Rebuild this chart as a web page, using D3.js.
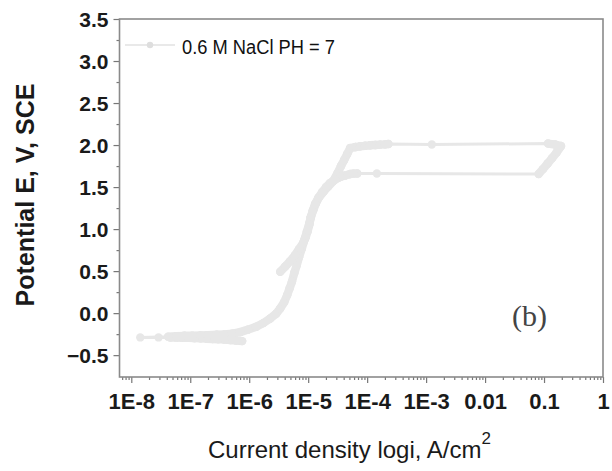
<!DOCTYPE html>
<html>
<head>
<meta charset="utf-8">
<script src="https://cdn.jsdelivr.net/npm/d3@7"></script>
<style>
  body { margin: 0; background: #fff; }
  svg { display: block; font-family: "Liberation Sans", Arial, sans-serif; }
</style>
</head>
<body>
<div id="chart"></div>
<script>
// polarization scan, in scan order (A/cm2, V vs SCE)
var current = [
  7.6e-7, 6.0e-7, 4.8e-7, 3.8e-7, 3.0e-7, 2.4e-7, 1.9e-7, 1.5e-7, 1.17e-7, 9.2e-8, 7.3e-8, 5.8e-8, 4.6e-8,
  2.9e-8, 1.42e-8,
  4.2e-8, 5.8e-8, 7.9e-8, 1.08e-7, 1.5e-7, 2.0e-7, 2.8e-7, 3.8e-7, 5.2e-7, 7.0e-7, 9.6e-7, 1.31e-6, 1.73e-6,
  2.27e-6, 2.87e-6, 3.35e-6, 3.92e-6, 4.4e-6, 4.86e-6, 5.3e-6, 5.8e-6, 6.4e-6, 7.0e-6, 7.8e-6, 8.6e-6, 9.5e-6,
  1.04e-5, 1.11e-5, 1.22e-5, 1.35e-5, 1.54e-5, 1.82e-5, 2.18e-5, 2.66e-5, 3.16e-5, 3.6e-5, 4.07e-5, 4.58e-5,
  5.15e-5, 6.3e-5, 7.6e-5, 9.2e-5, 1.12e-4, 1.37e-4, 1.66e-4, 2.02e-4, 2.3e-4,
  1.25e-3,
  0.117, 0.154, 0.194, 0.163, 0.137, 0.115, 0.096, 0.081,
  1.46e-4,
  6.8e-5, 5.8e-5, 5.15e-5, 4.24e-5, 3.48e-5, 2.87e-5, 2.36e-5, 2.02e-5, 1.73e-5, 1.48e-5, 1.31e-5, 1.19e-5,
  1.10e-5, 1.04e-5, 9.8e-6, 9.1e-6, 8.2e-6, 7.0e-6, 6.0e-6, 4.95e-6, 4.07e-6, 3.35e-6
];
var potential = [
  -0.333, -0.327, -0.321, -0.315, -0.310, -0.307, -0.304, -0.300, -0.298, -0.295, -0.293, -0.292, -0.291,
  -0.289, -0.289,
  -0.280, -0.274, -0.270, -0.268, -0.265, -0.262, -0.258, -0.254, -0.244, -0.226, -0.196, -0.163, -0.119,
  -0.063, -0.006, 0.056, 0.131, 0.214, 0.298, 0.373, 0.476, 0.571, 0.667, 0.770, 0.869, 0.968,
  1.060, 1.146, 1.226, 1.306, 1.381, 1.444, 1.506, 1.571, 1.667, 1.750, 1.821, 1.893,
  1.964, 1.976, 1.985, 1.991, 1.997, 2.000, 2.005, 2.008, 2.012,
  2.006,
  2.018, 2.006, 1.988, 1.911, 1.845, 1.780, 1.714, 1.655,
  1.661,
  1.661, 1.660, 1.655, 1.637, 1.619, 1.589, 1.548, 1.500, 1.440, 1.369, 1.298, 1.214,
  1.131, 1.048, 0.976, 0.905, 0.833, 0.762, 0.690, 0.619, 0.554, 0.492
];
var xTicks = [1e-8, 1e-7, 1e-6, 1e-5, 1e-4, 1e-3, 1e-2, 1e-1, 1];
var xTickLabels = ["1E-8", "1E-7", "1E-6", "1E-5", "1E-4", "1E-3", "0.01", "0.1", "1"];
var yTicks = [-0.5, 0, 0.5, 1, 1.5, 2, 2.5, 3, 3.5];
var seriesName = "0.6 M NaCl PH = 7";

var W = 612, H = 471;
var margin = {top: 19, right: 9, bottom: 94, left: 119.5};
var color = "#e7e7e7";
var symR = 4.2;

var svg = d3.select("#chart").append("svg")
    .attr("width", W)
    .attr("height", H);

var x = d3.scaleLog()
    .domain([Math.pow(10, -8.2), 1])
    .range([margin.left, W - margin.right]);
var y = d3.scaleLinear()
    .domain([-0.76, 3.5])
    .range([H - margin.bottom, margin.top]);

// minor ticks
var xMinor = [];
for (var e = -9; e < 0; e++) {
  for (var k = 2; k <= 9; k++) {
    var v = k * Math.pow(10, e);
    if (v > x.domain()[0] && v < 1) xMinor.push(v);
  }
}
var yMinor = [];
yTicks.forEach(function(t) { if (t + 0.25 < 3.5) yMinor.push(t + 0.25); });

svg.append("g")
    .attr("transform", "translate(0," + (H - margin.bottom) + ")")
    .call(d3.axisBottom(x).tickValues(xMinor).tickSize(3).tickFormat(""))
    .call(function(g) { g.select(".domain").remove(); });

svg.append("g")
    .attr("transform", "translate(" + margin.left + ",0)")
    .call(d3.axisLeft(y).tickValues(yMinor).tickSize(3).tickFormat(""))
    .call(function(g) { g.select(".domain").remove(); });

var xAxis = svg.append("g")
    .attr("transform", "translate(0," + (H - margin.bottom) + ")")
    .call(d3.axisBottom(x).tickValues(xTicks).tickSize(6).tickPadding(10)
      .tickFormat(function(d, i) { return xTickLabels[i]; }));
xAxis.select(".domain").remove();

var yAxis = svg.append("g")
    .attr("transform", "translate(" + margin.left + ",0)")
    .call(d3.axisLeft(y).tickValues(yTicks).tickSize(6).tickPadding(5)
      .tickFormat(d3.format(".1f")));
yAxis.select(".domain").remove();

svg.selectAll(".tick line").attr("stroke", "#777").attr("stroke-width", 1.2);
svg.selectAll(".tick text")
    .attr("fill", "#1a1a1a")
    .style("font-family", "'Liberation Sans', Arial, sans-serif")
    .style("font-weight", "bold");
xAxis.selectAll(".tick text").style("font-size", "22px");
yAxis.selectAll(".tick text").style("font-size", "21px").attr("dy", "0.36em");

// frame
svg.append("rect")
    .attr("x", margin.left)
    .attr("y", margin.top)
    .attr("width", W - margin.right - margin.left)
    .attr("height", H - margin.bottom - margin.top)
    .attr("fill", "none")
    .attr("stroke", "#8a8a8a")
    .attr("stroke-width", 1.6);

// curve
var pts = current.map(function(c, i) { return [c, potential[i]]; });
var line = d3.line()
    .x(function(d) { return x(d[0]); })
    .y(function(d) { return y(d[1]); });

var plot = svg.append("g");
plot.append("path")
    .datum(pts)
    .attr("d", line)
    .attr("fill", "none")
    .attr("stroke", color)
    .attr("stroke-width", 3)
    .attr("stroke-linejoin", "round")
    .attr("stroke-linecap", "round");

// where symbols sit close together they merge into a solid band
var segs = d3.pairs(pts).filter(function(p) {
  var dx = x(p[1][0]) - x(p[0][0]), dy = y(p[1][1]) - y(p[0][1]);
  return Math.sqrt(dx * dx + dy * dy) < 10;
});
plot.selectAll(".band")
    .data(segs)
    .enter().append("line")
    .attr("class", "band")
    .attr("x1", function(d) { return x(d[0][0]); })
    .attr("y1", function(d) { return y(d[0][1]); })
    .attr("x2", function(d) { return x(d[1][0]); })
    .attr("y2", function(d) { return y(d[1][1]); })
    .attr("stroke", color)
    .attr("stroke-width", symR * 2)
    .attr("stroke-linecap", "round");

plot.selectAll("circle")
    .data(pts)
    .enter().append("circle")
    .attr("cx", function(d) { return x(d[0]); })
    .attr("cy", function(d) { return y(d[1]); })
    .attr("r", symR)
    .attr("fill", color);

// legend
var legend = svg.append("g");
legend.append("line")
    .attr("x1", 125).attr("x2", 175)
    .attr("y1", 45).attr("y2", 45)
    .attr("stroke", "#e2e2e2")
    .attr("stroke-width", 1.5);
legend.append("circle")
    .attr("cx", 150).attr("cy", 45).attr("r", 3.2)
    .attr("fill", "#dedede");
legend.append("text")
    .attr("x", 182).attr("y", 54)
    .attr("textLength", 153)
    .attr("lengthAdjust", "spacingAndGlyphs")
    .style("font-size", "20px")
    .attr("fill", "#111")
    .text(seriesName);

// panel label
svg.append("text")
    .attr("x", 512).attr("y", 326)
    .style("font-family", "'Liberation Serif', 'Times New Roman', serif")
    .style("font-size", "30px")
    .attr("fill", "#444")
    .text("(b)");

// axis titles
var xt = svg.append("text")
    .attr("x", 208).attr("y", 458)
    .style("font-size", "24px")
    .attr("fill", "#1a1a1a");
xt.append("tspan").text("Current density logi, A/cm");
xt.append("tspan").attr("dy", -14).style("font-size", "17px").text("2");

svg.append("text")
    .attr("transform", "translate(34,195) rotate(-90)")
    .attr("text-anchor", "middle")
    .style("font-size", "25px")
    .style("font-weight", "bold")
    .attr("fill", "#1a1a1a")
    .text("Potential E, V, SCE");
</script>
</body>
</html>
